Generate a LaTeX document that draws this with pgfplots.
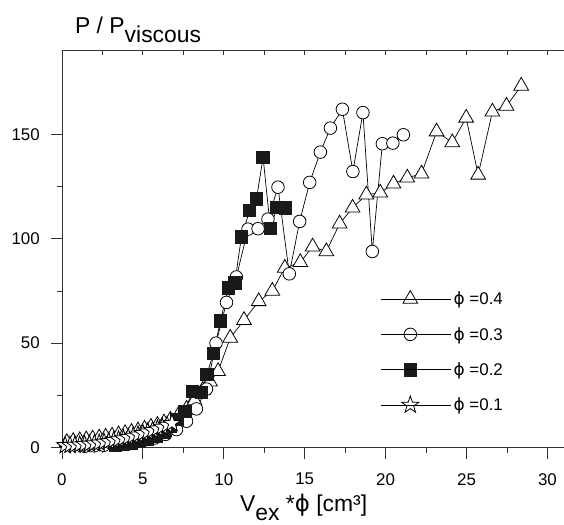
\documentclass[border=0pt]{standalone}
\usepackage{pgfplots}
\pgfplotsset{compat=1.18}
\usepackage{fontspec}
\setmainfont{Liberation Sans}
\newfontfamily\dv{DejaVu Sans}
\newcommand{\phisym}{{\dv ϕ}}
\pgfdeclareplotmark{ostar}{%
  \pgfpathmoveto{\pgfqpointpolar{90}{\pgfplotmarksize}}%
  \pgfpathlineto{\pgfqpointpolar{126}{0.40\pgfplotmarksize}}%
  \pgfpathlineto{\pgfqpointpolar{162}{\pgfplotmarksize}}%
  \pgfpathlineto{\pgfqpointpolar{198}{0.40\pgfplotmarksize}}%
  \pgfpathlineto{\pgfqpointpolar{234}{\pgfplotmarksize}}%
  \pgfpathlineto{\pgfqpointpolar{270}{0.40\pgfplotmarksize}}%
  \pgfpathlineto{\pgfqpointpolar{306}{\pgfplotmarksize}}%
  \pgfpathlineto{\pgfqpointpolar{342}{0.40\pgfplotmarksize}}%
  \pgfpathlineto{\pgfqpointpolar{18}{\pgfplotmarksize}}%
  \pgfpathlineto{\pgfqpointpolar{54}{0.40\pgfplotmarksize}}%
  \pgfpathclose
  \pgfusepathqfillstroke
}
\pgfplotstableread{
x y
0.3 2.5
0.7 3.0
1.1 3.4
1.5 3.8
1.9 4.2
2.3 4.7
2.7 5.1
3.1 5.6
3.5 6.2
3.9 6.8
4.3 7.4
4.7 8.1
5.1 8.9
5.5 9.8
5.9 10.8
6.3 11.9
6.7 13.2
7.2 15.5
7.7 18.5
8.2 22.5
8.7 27.5
9.15 31.5
9.65 36.5
10.4 52.5
11.25 61
12.16 70
13.0 75
13.77 86
14.73 88.7
15.49 96.2
16.34 93.9
17.16 107.2
17.96 114.8
18.81 121.1
19.67 122.0
20.49 126.3
21.34 129.2
22.22 131.1
23.15 151.3
24.12 146.1
24.98 157.9
25.72 130.6
26.6 160.8
27.47 163.6
28.38 173.2
}\tableA
\pgfplotstableread{
x y
1.4 0.6
2.0 0.8
2.6 1.1
3.2 1.5
3.8 2.0
4.45 2.7
5.1 3.6
5.74 4.6
6.4 6.3
7.08 8.6
7.7 12.6
8.31 18.5
8.93 28
9.52 50
10.17 69.5
10.78 81.7
11.5 104.6
12.12 104.8
12.73 109.4
13.35 124.7
14.05 83.2
14.69 108.3
15.31 127
15.97 141.5
16.59 153
17.33 162
17.98 132.2
18.6 160.4
19.18 93.9
19.8 145.5
20.45 145.8
21.1 149.8
}\tableB
\pgfplotstableread{
x y
3.3 1.0
3.8 1.5
4.3 2.2
4.8 3.0
5.3 4.0
5.8 5.5
6.3 7.5
6.7 10
7.1 13.5
7.6 17.4
8.05 27
8.62 26.5
8.95 35
9.36 45
9.8 60.7
10.27 76.4
10.68 78.8
11.09 100.8
11.6 113.5
12.02 119
12.43 139
12.88 105
13.29 115
13.8 114.7
}\tableC
\pgfplotstableread{
x y
0.2 1.0
0.5 1.1
0.8 1.2
1.1 1.3
1.4 1.5
1.7 1.7
2.0 1.9
2.3 2.2
2.6 2.6
2.9 2.9
3.2 3.4
3.5 3.8
3.8 4.3
4.1 4.9
4.4 5.5
4.7 6.1
5.0 6.8
5.3 7.5
5.6 8.2
5.9 9.0
6.2 9.8
6.5 10.7
6.8 11.6
}\tableD
\begin{document}
\begin{tikzpicture}
\begin{axis}[
  name=ax,
  x=16.2bp, y=2.09bp,
  xmin=0, xmax=31, ymin=0, ymax=190,
  axis x line=bottom, axis y line=left,
  axis line style={-, black!80, line width=0.8bp},
  xtick={0,5,...,30}, ytick={0,50,100,150},
  minor x tick num=1, minor y tick num=1,
  tick align=outside,
  major tick length=11bp, minor tick length=5bp,
  tick style={black!80, line width=0.8bp},
  ticklabel style={font=\fontsize{17}{20}\selectfont},
  /pgf/number format/assume math mode=true,
  xticklabel style={inner sep=0pt, yshift=-14.5bp},
  yticklabel style={inner sep=0pt, xshift=-11bp},
  clip=false,
  xlabel={V\raisebox{-9bp}{ex} *\phisym\ [cm³]},
  ylabel={P / P\raisebox{-8.4bp}{viscous}},
  every axis x label/.style={at={(axis cs:11,0)}, anchor=base west, yshift=-64bp, inner sep=0pt, font=\fontsize{23}{27}\selectfont},
  every axis y label/.style={at={(axis cs:0,190)}, anchor=base west, xshift=13bp, yshift=17bp, inner sep=0pt, font=\fontsize{23}{27}\selectfont},
  legend style={draw=none, fill=none, at={(axis cs:19.7,75.6)}, anchor=north west,
    inner sep=0pt, row sep=17bp, font=\fontsize{17}{20}\selectfont, nodes={inner sep=2bp}},
  legend cell align=left,
  legend image code/.code={
    \draw[black!55, line width=0.8bp] (0bp,0bp) -- (17bp,0bp) (41bp,0bp) -- (58bp,0bp);
    \draw[#1] plot[only marks] coordinates {(29bp,0bp)};
    \path (0bp,0bp) -- (70bp,0bp);
  },
]
\addplot[black, line width=0.7bp, mark=triangle*, mark size=8.5bp, mark options={fill=white, draw=black, line width=0.8bp, solid}] table {\tableA};
\addlegendentry{\phisym{} =0.4}
\addplot[black, line width=0.7bp, mark=*, mark size=6.3bp, mark options={fill=white, draw=black, line width=0.8bp, solid}] table {\tableB};
\addlegendentry{\phisym{} =0.3}
\addplot[black, line width=0.7bp, mark=square*, mark size=6.2bp, mark options={fill=black!90, draw=black!90, line width=0.8bp, solid}] table {\tableC};
\addlegendentry{\phisym{} =0.2}
\addplot[black, line width=0.7bp, mark=ostar, mark size=9bp, mark options={fill=white, draw=black, line width=0.8bp, solid}] table {\tableD};
\addlegendentry{\phisym{} =0.1}
\end{axis}
\draw[black!80, line width=0.8bp] (ax.north west) -- (ax.north east);
\foreach \i in {1,...,12} \draw[black!80, line width=0.8bp] ([xshift=\i*40.5bp]ax.north west) -- ++(0,-4bp);
\path[use as bounding box] ([shift={(-62bp,-77bp)}]ax.south west) rectangle ([shift={(502bp,448bp)}]ax.south west);
\end{tikzpicture}
\end{document}
